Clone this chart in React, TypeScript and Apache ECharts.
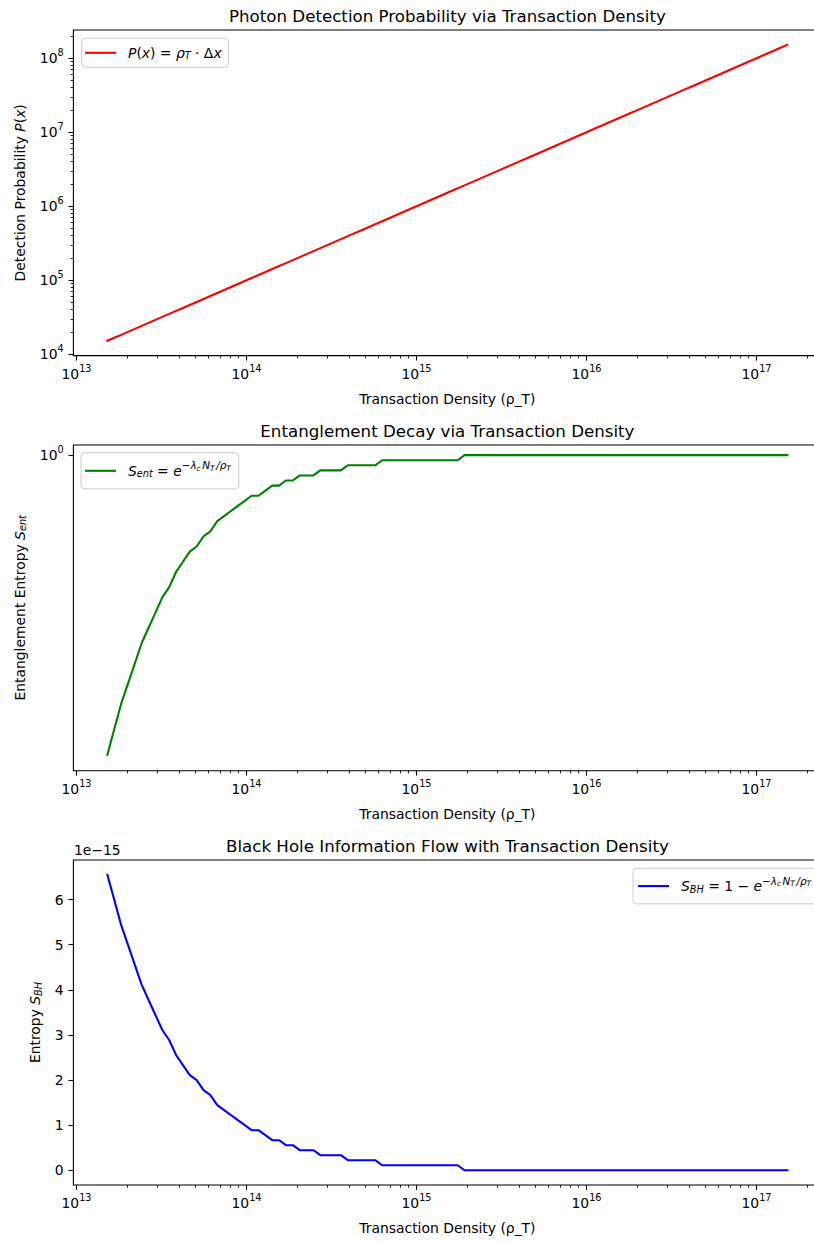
import React, { useEffect, useRef } from "react";
import * as echarts from "echarts";

// Transaction density ρ_T (100 log-spaced samples)
const rho = [
  1.520e13, 1.668e13, 1.831e13, 2.009e13, 2.205e13, 2.420e13, 2.656e13, 2.915e13, 3.199e13, 3.511e13,
  3.854e13, 4.229e13, 4.641e13, 5.094e13, 5.590e13, 6.135e13, 6.734e13, 7.390e13, 8.110e13, 8.901e13,
  9.769e13, 1.072e14, 1.177e14, 1.292e14, 1.418e14, 1.556e14, 1.707e14, 1.874e14, 2.057e14, 2.257e14,
  2.477e14, 2.719e14, 2.984e14, 3.275e14, 3.594e14, 3.945e14, 4.330e14, 4.752e14, 5.215e14, 5.724e14,
  6.282e14, 6.894e14, 7.566e14, 8.304e14, 9.114e14, 1.000e15, 1.098e15, 1.205e15, 1.322e15, 1.451e15,
  1.592e15, 1.748e15, 1.918e15, 2.105e15, 2.310e15, 2.535e15, 2.783e15, 3.054e15, 3.352e15, 3.678e15,
  4.037e15, 4.431e15, 4.863e15, 5.337e15, 5.857e15, 6.428e15, 7.055e15, 7.743e15, 8.498e15, 9.326e15,
  1.024e16, 1.123e16, 1.233e16, 1.353e16, 1.485e16, 1.630e16, 1.789e16, 1.963e16, 2.154e16, 2.365e16,
  2.595e16, 2.848e16, 3.126e16, 3.430e16, 3.765e16, 4.132e16, 4.535e16, 4.977e16, 5.462e16, 5.995e16,
  6.579e16, 7.221e16, 7.925e16, 8.697e16, 9.545e16, 1.048e17, 1.150e17, 1.262e17, 1.385e17, 1.520e17,
];

// Detection probability P(x)
const detectionP = [
  1.520e4, 1.668e4, 1.831e4, 2.009e4, 2.205e4, 2.420e4, 2.656e4, 2.915e4, 3.199e4, 3.511e4,
  3.854e4, 4.229e4, 4.641e4, 5.094e4, 5.590e4, 6.135e4, 6.734e4, 7.390e4, 8.110e4, 8.901e4,
  9.769e4, 1.072e5, 1.177e5, 1.292e5, 1.418e5, 1.556e5, 1.707e5, 1.874e5, 2.057e5, 2.257e5,
  2.477e5, 2.719e5, 2.984e5, 3.275e5, 3.594e5, 3.945e5, 4.330e5, 4.752e5, 5.215e5, 5.724e5,
  6.282e5, 6.894e5, 7.566e5, 8.304e5, 9.114e5, 1.000e6, 1.098e6, 1.205e6, 1.322e6, 1.451e6,
  1.592e6, 1.748e6, 1.918e6, 2.105e6, 2.310e6, 2.535e6, 2.783e6, 3.054e6, 3.352e6, 3.678e6,
  4.037e6, 4.431e6, 4.863e6, 5.337e6, 5.857e6, 6.428e6, 7.055e6, 7.743e6, 8.498e6, 9.326e6,
  1.024e7, 1.123e7, 1.233e7, 1.353e7, 1.485e7, 1.630e7, 1.789e7, 1.963e7, 2.154e7, 2.365e7,
  2.595e7, 2.848e7, 3.126e7, 3.430e7, 3.765e7, 4.132e7, 4.535e7, 4.977e7, 5.462e7, 5.995e7,
  6.579e7, 7.221e7, 7.925e7, 8.697e7, 9.545e7, 1.048e8, 1.150e8, 1.262e8, 1.385e8, 1.520e8,
];

// Black hole entropy S_BH in units of 1e-15 (S_ent = 1 - S_BH)
const sBH = [
  6.550, 5.995, 5.440, 4.996, 4.552, 4.108, 3.775, 3.442, 3.109, 2.887,
  2.554, 2.331, 2.109, 1.998, 1.776, 1.665, 1.443, 1.332, 1.221, 1.110,
  0.999, 0.888, 0.888, 0.777, 0.666, 0.666, 0.555, 0.555, 0.444, 0.444,
  0.444, 0.333, 0.333, 0.333, 0.333, 0.222, 0.222, 0.222, 0.222, 0.222,
  0.111, 0.111, 0.111, 0.111, 0.111, 0.111, 0.111, 0.111, 0.111, 0.111,
  0.111, 0.111, 0, 0, 0, 0, 0, 0, 0, 0,
  0, 0, 0, 0, 0, 0, 0, 0, 0, 0,
  0, 0, 0, 0, 0, 0, 0, 0, 0, 0,
  0, 0, 0, 0, 0, 0, 0, 0, 0, 0,
  0, 0, 0, 0, 0, 0, 0, 0, 0, 0,
];

const xMajorTicks = [1e13, 1e14, 1e15, 1e16, 1e17];
const xMinorTicks = [
  2e13, 3e13, 4e13, 5e13, 6e13, 7e13, 8e13, 9e13,
  2e14, 3e14, 4e14, 5e14, 6e14, 7e14, 8e14, 9e14,
  2e15, 3e15, 4e15, 5e15, 6e15, 7e15, 8e15, 9e15,
  2e16, 3e16, 4e16, 5e16, 6e16, 7e16, 8e16, 9e16,
  2e17,
];
const pMajorTicks = [1e4, 1e5, 1e6, 1e7, 1e8];
const pMinorTicks = [
  2e4, 3e4, 4e4, 5e4, 6e4, 7e4, 8e4, 9e4,
  2e5, 3e5, 4e5, 5e5, 6e5, 7e5, 8e5, 9e5,
  2e6, 3e6, 4e6, 5e6, 6e6, 7e6, 8e6, 9e6,
  2e7, 3e7, 4e7, 5e7, 6e7, 7e7, 8e7, 9e7,
  2e8,
];
const entTicks = [0];
const bhTicks = [0, 1, 2, 3, 4, 5, 6];

const titles = [
  "Photon Detection Probability via Transaction Density",
  "Entanglement Decay via Transaction Density",
  "Black Hole Information Flow with Transaction Density",
];
const xName = "Transaction Density (ρ_T)";

const FONT = "DejaVu Sans";
const FS = 13.9;
const LH = 17;

const rich: any = {
  n: { fontFamily: FONT, fontSize: FS, lineHeight: LH, color: "#000" },
  i: { fontFamily: FONT, fontSize: FS, fontStyle: "italic", lineHeight: LH, color: "#000" },
  sub: { fontFamily: FONT, fontSize: 9.7, fontStyle: "italic", lineHeight: LH, padding: [6, 0, 0, 0], color: "#000" },
  sup: { fontFamily: FONT, fontSize: 10.4, fontStyle: "italic", lineHeight: LH, padding: [0, 0, 11, 0], color: "#000" },
  supn: { fontFamily: FONT, fontSize: 10.4, lineHeight: LH, padding: [0, 0, 11, 0], color: "#000" },
  supsub: { fontFamily: FONT, fontSize: 7.4, fontStyle: "italic", lineHeight: LH, padding: [0, 0, 5, 0], color: "#000" },
  w: { width: 1.6, lineHeight: LH },
  g: { width: 7, lineHeight: LH },
  tb: { fontFamily: FONT, fontSize: FS, lineHeight: LH, color: "#000" },
  ts: { fontFamily: FONT, fontSize: 9.7, lineHeight: LH, padding: [0, 0, 11, 0], color: "#000" },
};

const expPart = "{i|e}{supn|−}{sup|λ}{supsub|c}{w| }{sup|N}{supsub|T}{w| }{sup|/ρ}{supsub|T}";
const legendLabels: Record<string, string> = {
  "P(x)": "{g| }{i|P}{n|(}{i|x}{n|) = }{i|ρ}{sub|T}{n| · Δ}{i|x}",
  S_ent: "{g| }{i|S}{sub|ent}{n| = }" + expPart,
  S_BH: "{g| }{i|S}{sub|BH}{n| = 1 − }" + expPart,
};

const GL = 73.4;
const GW = 748;
const gridTops = [30, 445, 860];
const gridHeights = [325.6, 325.7, 325];
const X_MIN = 9.594e12;
const X_MAX = 2.41e17;

const pow10Label = (v: number) => `{tb|10}{ts|${Math.round(Math.log10(v))}}`;

function buildOption(): any {
  const grids = gridTops.map((t, k) => ({
    left: GL,
    top: t,
    width: GW,
    height: gridHeights[k],
    show: true,
    borderColor: "#000",
    borderWidth: 1.1,
    backgroundColor: "transparent",
    containLabel: false,
    outerBoundsMode: "none",
  }));

  const xMajor = [0, 1, 2].map((g) => ({
    type: "log",
    logBase: 10,
    gridIndex: g,
    position: "bottom",
    min: X_MIN,
    max: X_MAX,
    axisLine: { show: false, onZero: false },
    splitLine: { show: false },
    axisTick: { show: true, customValues: xMajorTicks, length: 4.9, lineStyle: { color: "#000", width: 1.1 } },
    axisLabel: { customValues: xMajorTicks, formatter: pow10Label, margin: 9.7, rich, color: "#000" },
    name: xName,
    nameLocation: "middle",
    nameGap: 34.4,
    nameTextStyle: { fontFamily: FONT, fontSize: FS, color: "#000", lineHeight: LH },
  }));
  const xMinor = [0, 1, 2].map((g) => ({
    type: "log",
    logBase: 10,
    gridIndex: g,
    position: "bottom",
    min: X_MIN,
    max: X_MAX,
    axisLine: { show: false, onZero: false },
    splitLine: { show: false },
    axisLabel: { show: false },
    axisTick: { show: true, customValues: xMinorTicks, length: 2.8, lineStyle: { color: "#000", width: 0.85 } },
  }));

  const yAxes = [
    {
      type: "log",
      logBase: 10,
      gridIndex: 0,
      position: "left",
      min: 9594,
      max: 2.41e8,
      axisLine: { show: false, onZero: false },
      splitLine: { show: false },
      axisTick: { show: true, customValues: pMajorTicks, length: 4.9, lineStyle: { color: "#000", width: 1.1 } },
      axisLabel: { customValues: pMajorTicks, formatter: pow10Label, margin: 9.7, rich, color: "#000" },
      name: "Detection Probability {i|P}{n|(}{i|x}{n|)}",
      nameLocation: "middle",
      nameRotate: 90,
      nameGap: 45.4,
      nameTextStyle: { fontFamily: FONT, fontSize: FS, color: "#000", lineHeight: LH, rich },
    },
    {
      type: "value",
      gridIndex: 1,
      position: "left",
      inverse: true,
      min: -0.222,
      max: 6.9,
      axisLine: { show: false, onZero: false },
      splitLine: { show: false },
      axisTick: { show: true, customValues: entTicks, length: 4.9, lineStyle: { color: "#000", width: 1.1 } },
      axisLabel: { customValues: entTicks, formatter: () => "{tb|10}{ts|0}", margin: 9.7, rich, color: "#000" },
      name: "Entanglement Entropy {i|S}{sub|ent}",
      nameLocation: "middle",
      nameRotate: 90,
      nameGap: 45.4,
      nameTextStyle: { fontFamily: FONT, fontSize: FS, color: "#000", lineHeight: LH, rich },
    },
    {
      type: "value",
      gridIndex: 2,
      position: "left",
      min: -0.3275,
      max: 6.878,
      axisLine: { show: false, onZero: false },
      splitLine: { show: false },
      axisTick: { show: true, customValues: bhTicks, length: 4.9, lineStyle: { color: "#000", width: 1.1 } },
      axisLabel: {
        customValues: bhTicks,
        formatter: (v: number) => String(Math.round(v)),
        margin: 9.7,
        fontFamily: FONT,
        fontSize: FS,
        color: "#000",
      },
      name: "Entropy {i|S}{sub|BH}",
      nameLocation: "middle",
      nameRotate: 90,
      nameGap: 29,
      nameTextStyle: { fontFamily: FONT, fontSize: FS, color: "#000", lineHeight: LH, rich },
    },
    {
      type: "log",
      logBase: 10,
      gridIndex: 0,
      position: "left",
      min: 9594,
      max: 2.41e8,
      axisLine: { show: false, onZero: false },
      splitLine: { show: false },
      axisLabel: { show: false },
      axisTick: { show: true, customValues: pMinorTicks, length: 2.8, lineStyle: { color: "#000", width: 0.85 } },
    },
  ];

  const lineBase = {
    type: "line",
    showSymbol: false,
    symbol: "none",
    clip: true,
  };

  const series = [
    {
      ...lineBase,
      name: "P(x)",
      xAxisIndex: 0,
      yAxisIndex: 0,
      data: rho.map((x, i) => [x, detectionP[i]]),
      itemStyle: { color: "#ff0000" },
      lineStyle: { color: "#ff0000", width: 2.08, cap: "square", join: "round" },
    },
    {
      ...lineBase,
      name: "S_ent",
      xAxisIndex: 1,
      yAxisIndex: 1,
      data: rho.map((x, i) => [x, sBH[i]]),
      itemStyle: { color: "#008000" },
      lineStyle: { color: "#008000", width: 2.08, cap: "square", join: "round" },
    },
    {
      ...lineBase,
      name: "S_BH",
      xAxisIndex: 2,
      yAxisIndex: 2,
      data: rho.map((x, i) => [x, sBH[i]]),
      itemStyle: { color: "#0000ff" },
      lineStyle: { color: "#0000ff", width: 2.08, cap: "square", join: "round" },
    },
  ];

  const legendBase = {
    orient: "horizontal",
    icon: "rect",
    itemWidth: 31,
    itemHeight: 2.1,
    backgroundColor: "rgba(255,255,255,0.8)",
    borderColor: "#cccccc",
    borderWidth: 1,
    borderRadius: 4,
    selectedMode: false,
    formatter: (name: string) => legendLabels[name] ?? name,
    textStyle: { fontFamily: FONT, fontSize: FS, color: "#000", lineHeight: LH, rich },
  };

  const legends = [
    { ...legendBase, data: ["P(x)"], left: 81.7, top: 38.3, padding: [6, 7, 6, 3.3] },
    { ...legendBase, data: ["S_ent"], left: 81, top: 452.7, padding: [7.6, 8, 7.6, 4] },
    { ...legendBase, data: ["S_BH"], left: 633, top: 868.3, padding: [7.3, 8, 7.3, 5] },
  ];

  const titleComps = titles.map((t, k) => ({
    text: t,
    left: GL + GW / 2,
    top: gridTops[k] - 24,
    textAlign: "center",
    padding: 0,
    textStyle: { fontFamily: FONT, fontSize: 16.67, fontWeight: "normal", color: "#000", lineHeight: 20 },
  }));

  return {
    animation: false,
    backgroundColor: "#ffffff",
    title: titleComps,
    grid: grids,
    xAxis: [...xMajor, ...xMinor],
    yAxis: yAxes,
    legend: legends,
    series,
    graphic: [
      {
        type: "text",
        left: 74,
        top: 843,
        style: { text: "1e−15", font: `${FS}px '${FONT}'`, fill: "#000" },
      },
    ],
  };
}

export default function App() {
  const ref = useRef<HTMLDivElement>(null);
  useEffect(() => {
    if (!ref.current) return;
    const chart = echarts.init(ref.current, null, { renderer: "svg" });
    chart.setOption(buildOption());
    return () => chart.dispose();
  }, []);
  return (
    <div
      ref={ref}
      style={{ position: "absolute", left: 0, top: 0, width: 814, height: 1243, background: "#fff" }}
    />
  );
}
